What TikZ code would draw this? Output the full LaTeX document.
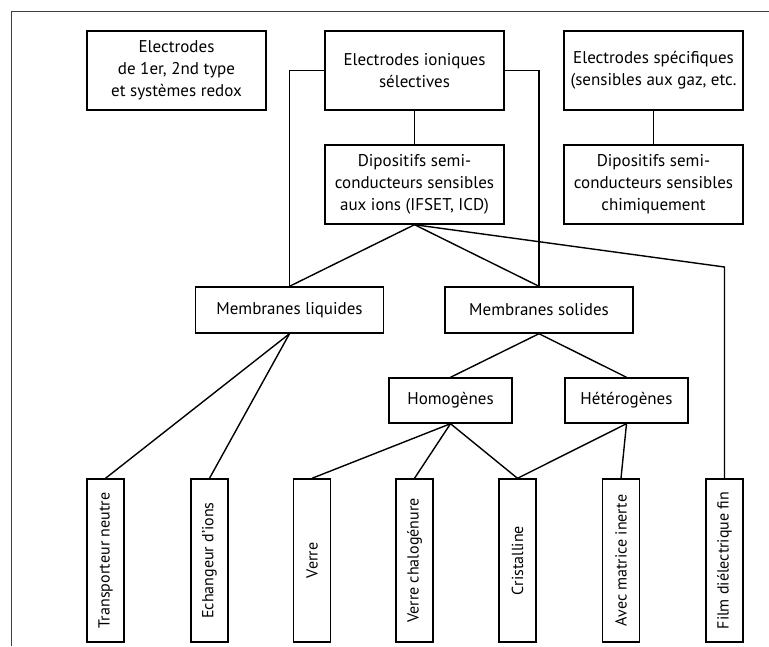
\documentclass[tikz,border=0pt]{standalone}
\usepackage{fontspec}
\setmainfont{PT Sans}
\begin{document}
\begin{tikzpicture}[x=1pt,y=-1pt,
  box/.style={draw,line width=1.4pt,inner sep=0pt,align=center,
    font=\fontsize{17}{22}\selectfont},
  bigbox/.style={box,minimum width=179pt,minimum height=79pt},
  midbox/.style={box,minimum width=188pt,minimum height=46pt},
  smallbox/.style={box,minimum width=123pt,minimum height=45pt},
  leaf/.style={box,rotate=90,minimum width=163pt,minimum height=37pt,
    font=\fontsize{16}{20}\selectfont},
  link/.style={line width=1.4pt},
  frameline/.style={line width=0.9pt,black!75}]
\useasboundingbox (0,0) rectangle (769,646);
\draw[frameline] (11,646) -- (11,11) -- (769,11);

\node[bigbox] (e12) at (176.5,70.5) {Electrodes\\de 1er, 2nd type\\et systèmes redox};
\node[bigbox] (ise) at (414.5,70.5) {Electrodes ioniques\\sélectives};
\node[bigbox] (esp) at (653.5,70.5) {Electrodes spécifiques\\(sensibles aux gaz, etc.};
\node[bigbox] (dsi) at (414.5,184.5) {Dipositifs semi-\\conducteurs sensibles\\aux ions (IFSET, ICD)};
\node[bigbox] (dsc) at (653.5,184.5) {Dipositifs semi-\\conducteurs sensibles\\chimiquement};
\node[midbox] (ml) at (289.5,310) {Membranes liquides};
\node[midbox] (ms) at (539,310) {Membranes solides};
\node[smallbox] (hom) at (450.5,400.5) {Homogènes};
\node[smallbox] (het) at (626.5,400.5) {Hétérogènes};

\node[leaf] (trans) at (105.5,560.5) {Transporteur neutre};
\node[leaf] (ech) at (209.5,560.5) {Echangeur d’ions};
\node[leaf] (verre) at (312,560.5) {Verre};
\node[leaf] (vchal) at (414.5,560.5) {Verre chalogénure};
\node[leaf] (crist) at (517.5,560.5) {Cristalline};
\node[leaf] (avec) at (621,560.5) {Avec matrice inerte};
\node[leaf] (film) at (724.5,560.5) {Film diélectrique fin};

\coordinate (bend) at (724.5,267);

\draw[link] (ise.south) -- (dsi.north);
\draw[link] (esp.south) -- (dsc.north);
\draw[link] (ise.west) -| (ml.north);
\draw[link] (ise.east) -| (ms.north);
\draw[link] (dsi.south) -- (ml.north);
\draw[link] (dsi.south) -- (ms.north);
\draw[link] (dsi.south) -- (bend) -- (film.east);
\draw[link] (ms.south) -- (hom.north);
\draw[link] (ms.south) -- (het.north);
\draw[link] (ml.south) -- (trans.east);
\draw[link] (ml.south) -- (ech.east);
\draw[link] (hom.south) -- (verre.east);
\draw[link] (hom.south) -- (vchal.east);
\draw[link] (hom.south) -- (crist.east);
\draw[link] (het.south) -- (crist.east);
\draw[link] (het.south) -- (avec.east);
\end{tikzpicture}
\end{document}
